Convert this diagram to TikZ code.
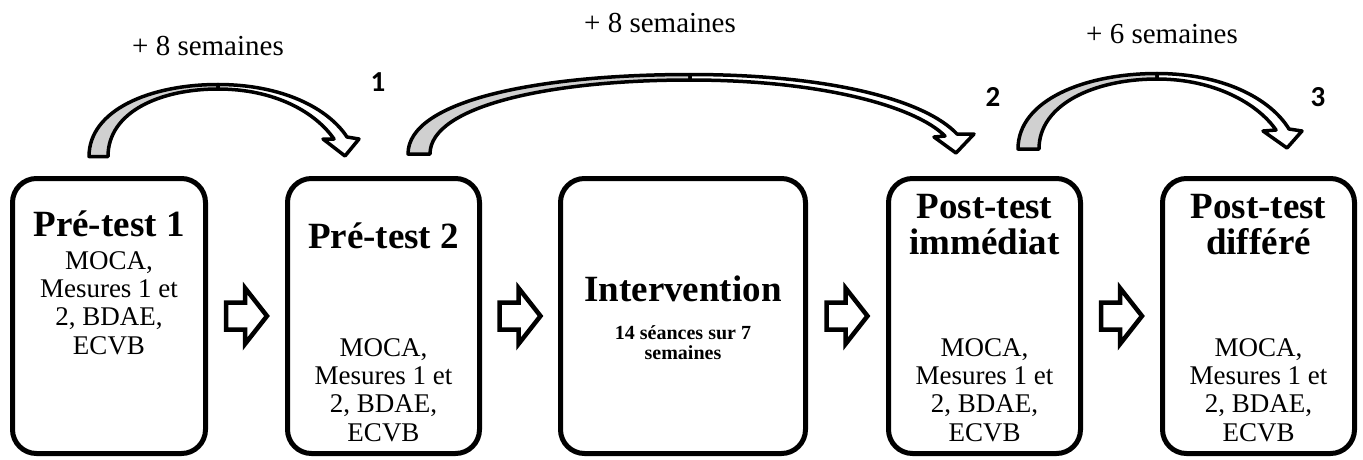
\documentclass[tikz,border=0pt]{standalone}
\usepackage{fontspec}
\setmainfont{Liberation Serif}
\newfontfamily\numfont{Carlito}
\usetikzlibrary{calc}
\definecolor{ribbongray}{RGB}{208,208,208}
\begin{document}
\begin{tikzpicture}[x=1pt,y=-1pt,
 box/.style={draw, line width=5pt, rounded corners=24pt, inner sep=0pt, minimum height=275pt},
 ttl/.style={font=\fontsize{37}{36}\selectfont\bfseries, align=center, inner sep=0pt},
 bodytxt/.style={font=\fontsize{27}{28.3}\selectfont, align=center, inner sep=0pt},
 subtxt/.style={font=\fontsize{20}{20}\selectfont\bfseries, align=center, inner sep=0pt},
 weeks/.style={font=\fontsize{29}{32}\selectfont, inner sep=0pt, anchor=base},
 num/.style={font=\numfont\fontsize{29}{30}\selectfont\bfseries, inner sep=0pt},
 barrow/.style={draw, line width=4.5pt, fill=white, miter limit=10},
 ribbonback/.style={draw, line width=3.5pt, fill=ribbongray, line join=round},
 ribbonfront/.style={draw, line width=3.5pt, fill=white, line join=round}]
\useasboundingbox (0,0) rectangle (1363,459);

% boxes
\node[box, minimum width=193pt] (b1) at (109,316) {};
\node[box, minimum width=192pt] (b2) at (383.5,316) {};
\node[box, minimum width=245pt] (b3) at (683,316) {};
\node[box, minimum width=192pt] (b4) at (984.5,316) {};
\node[box, minimum width=192pt] (b5) at (1258.5,316) {};

% texts
\node[ttl, anchor=base] (t1) at (109,236) {Pré-test 1};
\node[bodytxt] (d1) at (109,303) {MOCA,\\Mesures 1 et\\2, BDAE,\\ECVB};
\node[ttl, anchor=base] (t2) at (383.5,248) {Pré-test 2};
\node[bodytxt] (d2) at (383.5,390) {MOCA,\\Mesures 1 et\\2, BDAE,\\ECVB};
\node[ttl, anchor=base] (t3) at (683,301) {Intervention};
\node[subtxt] (d3) at (683,343) {14 séances sur 7\\semaines};
\node[ttl] (t4) at (984.5,225) {Post-test\\immédiat};
\node[bodytxt] (d4) at (984.5,390) {MOCA,\\Mesures 1 et\\2, BDAE,\\ECVB};
\node[ttl] (t5) at (1258.5,225) {Post-test\\différé};
\node[bodytxt] (d5) at (1258.5,390) {MOCA,\\Mesures 1 et\\2, BDAE,\\ECVB};

% block arrows between boxes
\coordinate (m12) at ($(b1.east)!0.5!(b2.west)$);
\coordinate (m23) at ($(b2.east)!0.5!(b3.west)$);
\coordinate (m34) at ($(b3.east)!0.5!(b4.west)$);
\coordinate (m45) at ($(b4.east)!0.5!(b5.west)$);
\foreach \m in {m12,m23,m34,m45}{
  \draw[barrow, shift={(\m)}] (-20.5,-13.5) -- (-1.5,-13.5) -- (-1.5,-28) -- (20.5,0)
    -- (-1.5,28) -- (-1.5,13.5) -- (-20.5,13.5) -- cycle;
}

% curved arrows
\draw[ribbonback] (89,156.5) .. controls (89,110) and (150,84.5) .. (218,84.5)
  -- (218,89) .. controls (160,89) and (108,112) .. (108,156.5) -- cycle;
\draw[ribbonfront] (218,84.5) .. controls (282,84.5) and (328,108) .. (347,137)
  -- (359,139) -- (345,156) -- (323,139) -- (334,139)
  .. controls (316,113) and (276,89) .. (218,89) -- cycle;

\draw[ribbonback] (408,154) .. controls (408,100) and (540,74.5) .. (690,74.5)
  -- (690,80) .. controls (550,80) and (430,106) .. (430,154) -- cycle;
\draw[ribbonfront] (690,74.5) .. controls (830,74.5) and (925,100) .. (957,134)
  -- (974,134) -- (956,153) -- (934,137) -- (945,136)
  .. controls (915,106) and (820,80) .. (690,80) -- cycle;

\draw[ribbonback] (1018,149) .. controls (1018,100) and (1085,73.5) .. (1157,73.5)
  -- (1157,79) .. controls (1095,79) and (1039,104) .. (1039,149) -- cycle;
\draw[ribbonfront] (1157,73.5) .. controls (1222,73.5) and (1270,98) .. (1289,129)
  -- (1302,131) -- (1287,148) -- (1263,131) -- (1276,130)
  .. controls (1258,104) and (1215,79) .. (1157,79) -- cycle;

% labels
\node[weeks] (w1) at (208,55) {+ 8 semaines};
\node[weeks] (w2) at (660,32) {+ 8 semaines};
\node[weeks] (w3) at (1162,43) {+ 6 semaines};
\node[num] (n1) at (378,82) {1};
\node[num] (n2) at (993,97) {2};
\node[num] (n3) at (1318,97) {3};
\end{tikzpicture}
\end{document}
